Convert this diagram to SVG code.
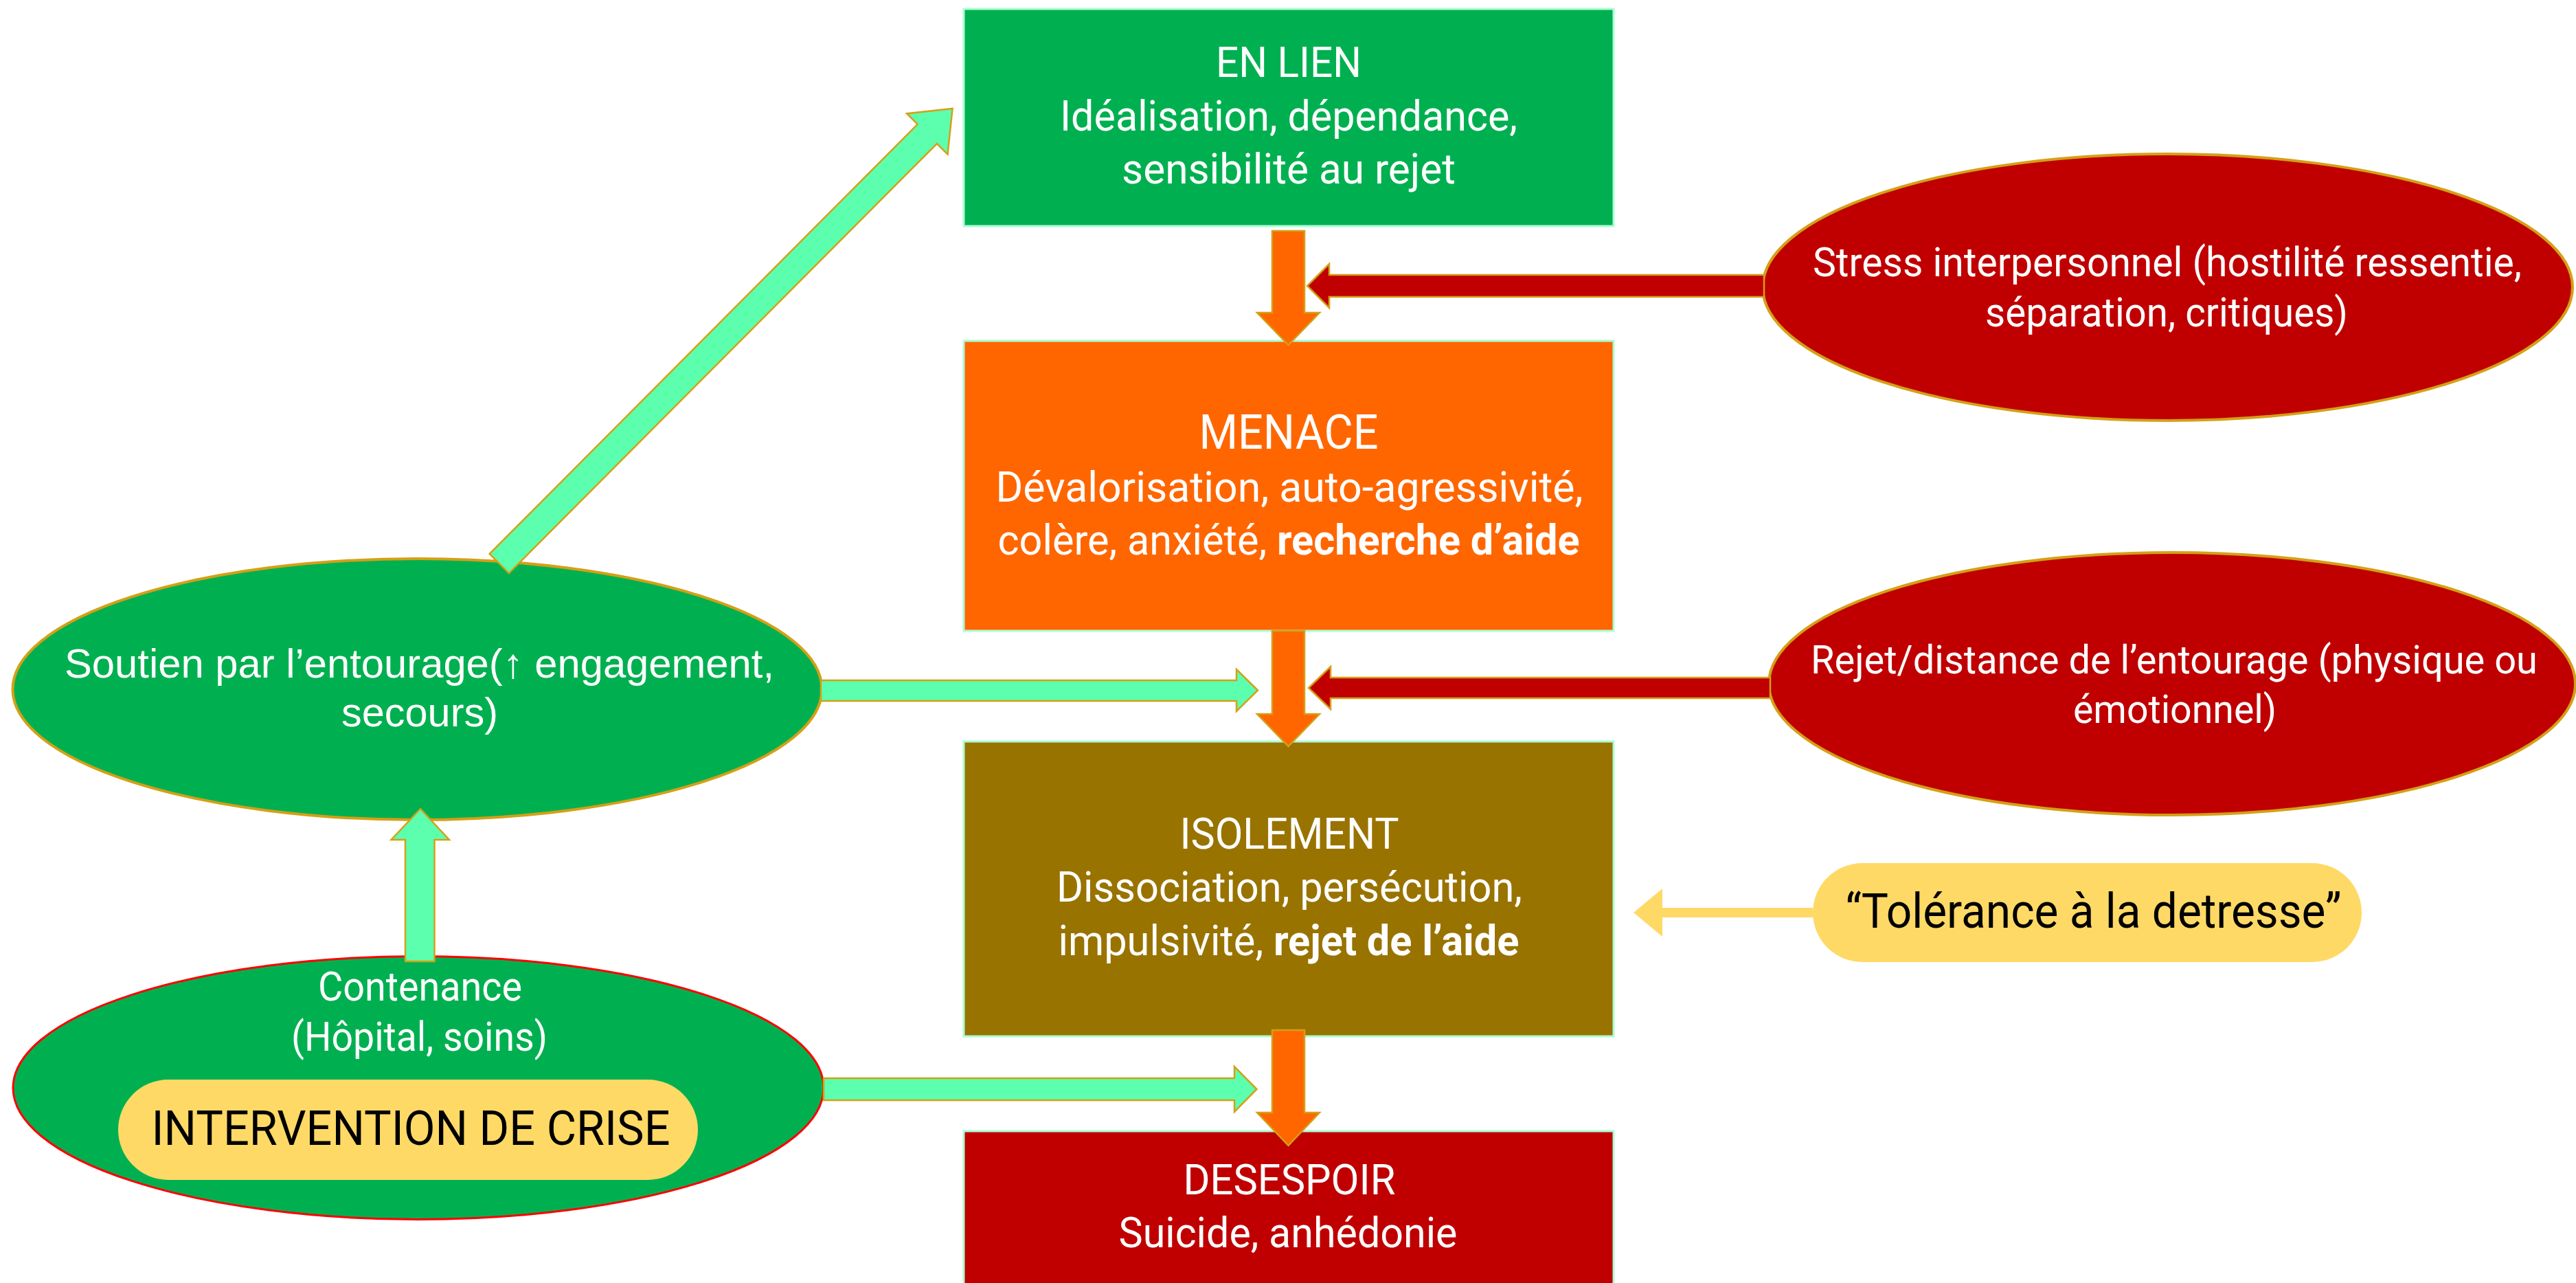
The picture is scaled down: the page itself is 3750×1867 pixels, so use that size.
<svg xmlns="http://www.w3.org/2000/svg" width="3750" height="1867" viewBox="0 0 3750 1867">
<style>
.box{stroke:#AAFFD4;stroke-width:3}
.ell{stroke:#D4A017;stroke-width:4}
.arr{stroke:#D4A017;stroke-width:2.5;stroke-linejoin:miter}
.t{font-family:Roboto,"Noto Sans","Liberation Sans",sans-serif;fill:#fff;text-anchor:middle}
.a{font-family:"Liberation Sans",Arial,sans-serif;fill:#fff;text-anchor:middle}
.k{fill:#000}
.b{font-weight:bold}
</style>
<rect width="3750" height="1867" fill="#fff"/>
<g id="node-enlien">
<rect class="box" x="1403" y="13" width="946" height="316" fill="#00B050"/>
<text class="t" x="1876" y="111.5" font-size="62" textLength="212" lengthAdjust="spacingAndGlyphs">EN LIEN</text>
<text class="t" x="1876" y="189.5" font-size="62" textLength="666" lengthAdjust="spacingAndGlyphs">Idéalisation, dépendance,</text>
<text class="t" x="1876" y="266.5" font-size="62" textLength="486" lengthAdjust="spacingAndGlyphs">sensibilité au rejet</text>
</g>
<g id="node-menace">
<rect class="box" x="1403" y="496" width="946" height="422" fill="#FF6600"/>
<text class="t" x="1876" y="653" font-size="70" textLength="261" lengthAdjust="spacingAndGlyphs">MENACE</text>
<text class="t" x="1877" y="730" font-size="62" textLength="855" lengthAdjust="spacingAndGlyphs">Dévalorisation, auto-agressivité,</text>
<text class="t" x="1876" y="806.5" font-size="62" textLength="847" lengthAdjust="spacingAndGlyphs">colère, anxiété, <tspan class="b">recherche d’aide</tspan></text>
</g>
<g id="node-isolement">
<rect class="box" x="1403" y="1079" width="946" height="429" fill="#997300"/>
<text class="t" x="1877" y="1235" font-size="63" textLength="319" lengthAdjust="spacingAndGlyphs">ISOLEMENT</text>
<text class="t" x="1877" y="1312" font-size="62" textLength="678" lengthAdjust="spacingAndGlyphs">Dissociation, persécution,</text>
<text class="t" x="1876" y="1390" font-size="62" textLength="671" lengthAdjust="spacingAndGlyphs">impulsivité, <tspan class="b">rejet de l’aide</tspan></text>
</g>
<g id="node-desespoir">
<rect class="box" x="1403" y="1646" width="946" height="240" fill="#C00000"/>
<text class="t" x="1877" y="1738" font-size="62" textLength="309" lengthAdjust="spacingAndGlyphs">DESESPOIR</text>
<text class="t" x="1875" y="1815" font-size="62" textLength="493" lengthAdjust="spacingAndGlyphs">Suicide, anhédonie</text>
</g>
<g id="node-stress">
<ellipse class="ell" cx="3155.5" cy="418" rx="589.5" ry="194" fill="#C00000"/>
<text class="t" x="3155" y="402" font-size="60" textLength="1032" lengthAdjust="spacingAndGlyphs">Stress interpersonnel (hostilité ressentie,</text>
<text class="t" x="3154" y="474.5" font-size="60" textLength="528" lengthAdjust="spacingAndGlyphs">séparation, critiques)</text>
</g>
<g id="node-rejet">
<ellipse class="ell" cx="3162" cy="995" rx="587" ry="191" fill="#C00000"/>
<text class="t" x="3165" y="979.5" font-size="58" textLength="1058" lengthAdjust="spacingAndGlyphs">Rejet/distance de l’entourage (physique ou</text>
<text class="t" x="3166" y="1051.5" font-size="58" textLength="296" lengthAdjust="spacingAndGlyphs">émotionnel)</text>
</g>
<g id="node-tolerance">
<rect x="2639" y="1256" width="799" height="144" rx="72" ry="72" fill="#FFD966"/>
<text class="t k" x="3047.5" y="1350" font-size="70" textLength="722" lengthAdjust="spacingAndGlyphs">“Tolérance à la detresse”</text>
</g>
<g id="node-soutien">
<ellipse class="ell" cx="607.5" cy="1003" rx="589" ry="190" fill="#00B050" stroke-width="3"/>
<text class="a" x="610.5" y="986" font-size="60" textLength="1033" lengthAdjust="spacingAndGlyphs">Soutien par l’entourage(↑ engagement,</text>
<text class="a" x="611" y="1057" font-size="60" textLength="228" lengthAdjust="spacingAndGlyphs">secours)</text>
</g>
<g id="node-contenance">
<ellipse cx="609" cy="1583" rx="590" ry="191.5" fill="#00B050" stroke="#FF0000" stroke-width="3"/>
<text class="t" x="611.5" y="1456" font-size="59" textLength="297" lengthAdjust="spacingAndGlyphs">Contenance</text>
<text class="t" x="610.5" y="1528.5" font-size="59" textLength="373" lengthAdjust="spacingAndGlyphs">(Hôpital, soins)</text>
</g>
<g id="node-intervention">
<rect x="172" y="1571" width="844" height="146" rx="73" ry="73" fill="#FFD966"/>
<text class="t k" x="598" y="1666" font-size="70" textLength="755" lengthAdjust="spacingAndGlyphs">INTERVENTION DE CRISE</text>
</g>
<g id="connectors">
<polygon class="arr" fill="#FF6600" points="1852,336 1899,336 1899,455 1921,455 1875.5,502 1830,455 1852,455"/>
<polygon class="arr" fill="#FF6600" points="1852,918 1899,918 1899,1039 1921,1039 1875.5,1086 1830,1039 1852,1039"/>
<polygon class="arr" fill="#FF6600" points="1852,1499 1899,1499 1899,1619 1921,1619 1875.5,1667 1830,1619 1852,1619"/>
<polygon class="arr" fill="#C00000" points="2568,400 1935,400 1935,384 1903,416 1935,448 1935,432 2568,432"/>
<polygon class="arr" fill="#C00000" points="2577,986 1937,986 1937,970 1905,1001 1937,1032 1937,1016 2577,1016"/>
<polygon class="arr" fill="#5CFFAE" points="1195,990 1800,990 1800,974 1831,1004.5 1800,1035 1800,1020 1195,1020"/>
<polygon class="arr" fill="#5CFFAE" points="1199,1569 1797,1569 1797,1552 1829.5,1585 1797,1618 1797,1601 1199,1601"/>
<polygon class="arr" fill="#5CFFAE" points="590,1399 590,1222 569.5,1222 612,1177 654,1222 632.5,1222 632.5,1399"/>
<polygon class="arr" fill="#5CFFAE" points="712.7,805.9 1335.7,180.8 1320.1,165.2 1386.6,158 1379.5,224.6 1363.9,209 740.9,834.1"/>
<polygon fill="#FFD966" points="2639,1321 2420,1321 2420,1293 2378,1328 2420,1363 2420,1335 2639,1335"/>
</g>
</svg>
